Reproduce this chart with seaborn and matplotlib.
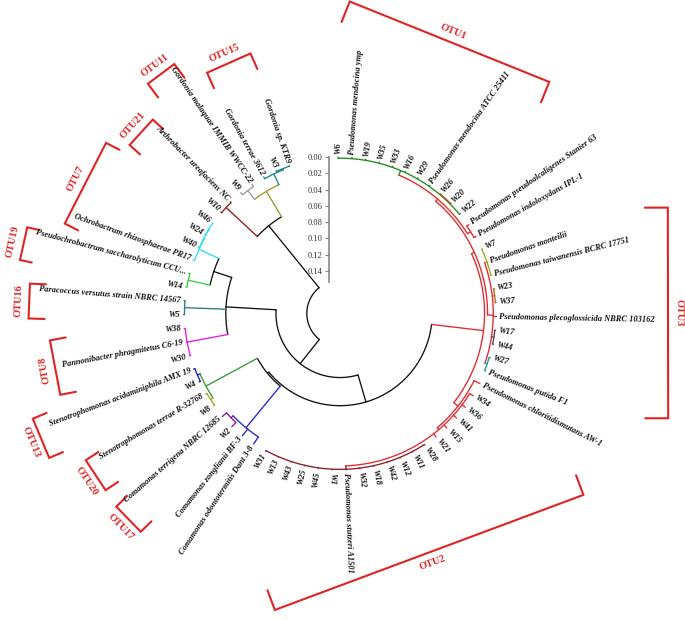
import numpy as np
import pandas as pd
import matplotlib
matplotlib.use("Agg")
import matplotlib.pyplot as plt
import seaborn as sns

sns.set_theme(style="white")
plt.rcParams['font.family'] = ['Liberation Serif', 'DejaVu Serif']

# tips, clockwise from the top of the circle
leaves = [
    "W6", "Pseudomonas mendocina ymp", "W19", "W35", "W33", "W16", "W29",
    "Pseudomonas mendocina ATCC 25411", "W26", "W20", "W22",
    "Pseudomonas pseudoalcaligenes Stanier 63", "Pseudomonas indoloxydans IPL-1",
    "W7", "Pseudomonas monteilii", "Pseudomonas taiwanensis BCRC 17751", "W23", "W37",
    "Pseudomonas plecoglossicida NBRC 103162", "W17", "W44", "W27", "Pseudomonas putida F1",
    "Pseudomonas chloritidismutans AW-1", "W34", "W36", "W41", "W15", "W21", "W28", "W11",
    "W12", "W42", "W18", "W32", "Pseudomonas stutzeri A1501", "W1", "W45", "W25", "W43",
    "W13", "W31",
    "Comamonas odontotermitis Dant 3-8", "Comamonas zonglianii BF-3", "W2",
    "Comamonas terrigena NBRC 12685", "W8", "Stenotrophomonas terrae R-32768", "W4",
    "Stenotrophomonas acidaminiphila AMX 19", "W30", "Pannonibacter phragmitetus C6-19",
    "W38", "W5", "Paracoccus versutus strain NBRC 14567", "W14",
    "Pseudochrobactrum saccharolyticum CCU...", "Ochrobactrum rhizosphaerae PR17",
    "W40", "W24", "W46", "W10", "Arthrobacter ureafaciens NC", "W9",
    "Gordonia malaquae IMMIB WWCC-22", "Gordonia terrae 3612", "W3", "Gordonia sp. KTR9",
]

# internal nodes -> children
children = {
    "root": ["H", "B"],
    "H": ["gord", "arth"],
    "gord": ["gray", "teal3"],
    "gray": ["W9", "Gordonia malaquae IMMIB WWCC-22"],
    "teal3": ["Gordonia terrae 3612", "w3k"],
    "w3k": ["W3", "Gordonia sp. KTR9"],
    "arth": ["W10", "Arthrobacter ureafaciens NC"],
    "B": ["C", "D"],
    "C": ["I", "para", "pann"],
    "I": ["ochro", "w14"],
    "ochro": ["Ochrobactrum rhizosphaerae PR17", "o2"],
    "o2": ["W40", "o3"],
    "o3": ["W24", "W46"],
    "w14": ["W14", "Pseudochrobactrum saccharolyticum CCU..."],
    "para": ["Paracoccus versutus strain NBRC 14567", "W5"],
    "pann": ["W38", "Pannonibacter phragmitetus C6-19", "W30"],
    "D": ["E", "P"],
    "E": ["steno", "coma"],
    "steno": ["st1", "st2"],
    "st1": ["Stenotrophomonas acidaminiphila AMX 19", "W4"],
    "st2": ["Stenotrophomonas terrae R-32768", "W8"],
    "coma": ["coma2", "Comamonas zonglianii BF-3", "Comamonas odontotermitis Dant 3-8"],
    "coma2": ["Comamonas terrigena NBRC 12685", "W2"],
    "P": ["PU", "PL"],
    "PU": ["A1", "otu3"],
    "A1": ["otu1", "pi"],
    "otu1": ["W6", "Pseudomonas mendocina ymp", "W19", "W35", "W33", "W16", "W29",
             "Pseudomonas mendocina ATCC 25411", "w2620", "W22"],
    "w2620": ["W26", "W20"],
    "pi": ["Pseudomonas pseudoalcaligenes Stanier 63", "Pseudomonas indoloxydans IPL-1"],
    "otu3": ["o3a", "o3b", "Pseudomonas plecoglossicida NBRC 103162", "o3c", "o3d"],
    "o3a": ["W7", "Pseudomonas monteilii", "Pseudomonas taiwanensis BCRC 17751"],
    "o3b": ["W23", "W37"],
    "o3c": ["W17", "W44"],
    "o3d": ["W27", "Pseudomonas putida F1"],
    "PL": ["Pseudomonas chloritidismutans AW-1", "PL2"],
    "PL2": ["W34", "W36", "W41", "W15", "W21", "otu2"],
    "otu2": ["W28", "W11", "W12", "W42", "W18", "W32", "Pseudomonas stutzeri A1501",
             "W1", "W45", "W25", "W43", "W13", "W31"],
}

# node depth (distance from the tips, read against the scale bar)
depth = {
    "root": 0.1515, "H": 0.0534, "gord": 0.0171, "gray": 0.0035, "teal3": 0.0025,
    "w3k": 0.001, "arth": 0.0012, "B": 0.1136, "C": 0.0520, "I": 0.0289,
    "ochro": 0.0020, "o2": 0.0012, "o3": 0.0006, "w14": 0.0015, "para": 0.0012,
    "pann": 0.0012, "D": 0.0790, "E": 0.0768, "steno": 0.0050, "st1": 0.0015,
    "st2": 0.0015, "coma": 0.0105, "coma2": 0.0070, "P": 0.0147, "PU": 0.0110,
    "A1": 0.0075, "otu1": 0.0015, "w2620": 0.0007, "pi": 0.0030, "otu3": 0.0040,
    "o3a": 0.0010, "o3b": 0.0010, "o3c": 0.0010, "o3d": 0.0012, "PL": 0.0080,
    "PL2": 0.0050, "otu2": 0.0008,
}

otu_names = ["OTU1", "OTU3", "OTU2", "OTU15", "OTU11", "OTU21", "OTU7",
             "OTU19", "OTU16", "OTU8", "OTU13", "OTU20", "OTU17"]

# ---- layout / style ----
branch_color = {
    "gord": "#9a9a2c", "gray": "#9c9c9c", "teal3": "#17888a", "arth": "#8b1c1c",
    "ochro": "#2fe0f0", "w14": "#3ccc3c", "para": "#2d7a7a", "pann": "#e01ee0",
    "steno": "#359a35", "st1": "#1c1ca0", "st2": "#a3a31e", "coma": "#2626cc",
    "coma2": "#8a1e8a", "P": "#e8262a", "otu1": "#1f8a1f", "w2620": "#b8521c",
    "o3a": "#a3a31e", "o3b": "#b8621c", "o3c": "#5a3a50", "o3d": "#189c9c",
    "otu2": "#8b1c28",
}
R_TIP = 156.5          # tip radius in pixels
PX_PER_UNIT = 814      # pixels per unit of distance
START, STEP = 90.7, 5.1

# OTU brackets: start angle, end angle, distance of the bracket line, tick length
otu_layout = [
    (88.2, 47.9, 293, 22), (17.9, -17.7, 328, 23), (-36.7, -102.4, 255, 21),
    (109.0, 118.9, 274, 17), (123.6, 129.9, 299, 17), (134.0, 141.3, 269, 14),
    (143.9, 161.9, 286, 15), (164.6, 170.5, 324, 12), (174.5, 180.9, 311, 16),
    (185.3, 196.2, 290, 16), (198.9, 206.4, 324, 15), (210.0, 217.0, 293, 15),
    (220.8, 227.6, 295, 15),
]

leaf_angle = {name: START - i * STEP for i, name in enumerate(leaves)}


def angle(n):
    if n in children:
        return float(np.mean([angle(c) for c in children[n]]))
    return leaf_angle[n]


def radius(n):
    return R_TIP - depth[n] * PX_PER_UNIT if n in children else R_TIP


rows = []
seg_id = [0]


def add_seg(xs, ys, col):
    for x, y in zip(xs, ys):
        rows.append((seg_id[0], x, y, col))
    seg_id[0] += 1


def walk(n, col):
    col = branch_color.get(n, col)
    r = radius(n)
    angs = [angle(c) for c in children[n]]
    a = np.radians(np.linspace(min(angs), max(angs), max(3, int(max(angs) - min(angs)) + 2)))
    add_seg(r * np.cos(a), r * np.sin(a), col)
    for c in children[n]:
        ccol = branch_color.get(c, col)
        ac = np.radians(angle(c))
        rc = radius(c)
        add_seg([r * np.cos(ac), rc * np.cos(ac)], [r * np.sin(ac), rc * np.sin(ac)], ccol)
        if c in children:
            walk(c, col)


walk("root", "#111111")
seg = pd.DataFrame(rows, columns=["seg", "x", "y", "color"])

W, H = 685, 620
CX, CY = 340, 313.5
fig = plt.figure(figsize=(W / 100, H / 100), dpi=100)
ax = fig.add_axes([0, 0, 1, 1])
sns.lineplot(data=seg, x="x", y="y", units="seg", hue="color",
             palette={c: c for c in seg["color"].unique()}, estimator=None,
             sort=False, legend=False, linewidth=0.95, ax=ax)

# tip labels
for name, a in leaf_angle.items():
    aa = (a + 180) % 360 - 180
    rr = R_TIP + 3
    x, y = rr * np.cos(np.radians(a)), rr * np.sin(np.radians(a))
    if -95 <= aa <= 95:
        rot, ha = aa, "left"
    else:
        rot, ha = aa - 180 if aa > 0 else aa + 180, "right"
    ax.text(x, y, name, rotation=rot, rotation_mode="anchor", ha=ha, va="center",
            fontsize=6.0, fontstyle="italic", fontweight="bold", color="#111111")

# OTU brackets
red = "#e02424"
for name, (a1, a2, d, tk) in zip(otu_names, otu_layout):
    m = np.radians((a1 + a2) / 2)
    half = d * np.tan(np.radians(abs(a2 - a1) / 2))
    u = np.array([np.cos(m), np.sin(m)])
    t = np.array([-np.sin(m), np.cos(m)])
    p1, p2 = d * u + half * t, d * u - half * t
    pts = np.array([p1 - tk * u, p1, p2, p2 - tk * u])
    ax.plot(pts[:, 0], pts[:, 1], color=red, lw=1.5, solid_joinstyle="miter")
    rot = np.degrees(m) - 90
    if rot < -90:
        rot += 180
    if rot > 105:
        rot -= 180
    lp = (d + 11) * u
    ax.text(lp[0], lp[1], name, rotation=rot, rotation_mode="anchor", ha="center",
            va="center", fontsize=7.5, fontweight="bold", color=red)

ax.set_xlim(-CX, W - CX)
ax.set_ylim(-(H - CY), CY)
ax.axis("off")

# distance scale along the radius
bar_x, bar_bottom = 329, 282
sax = fig.add_axes([bar_x / W, (H - bar_bottom) / H, 0.0001,
                    (bar_bottom - (CY - R_TIP)) / H])
sax.set_ylim((bar_bottom - (CY - R_TIP)) / PX_PER_UNIT, 0)
sax.set_yticks(np.arange(0, 0.141, 0.02))
sax.set_yticklabels([f"{v:.2f}" for v in np.arange(0, 0.141, 0.02)])
sax.set_xticks([])
sns.despine(ax=sax, top=True, right=True, bottom=True, left=False)
sax.spines["left"].set_color("#888888")
sax.spines["left"].set_linewidth(1.2)
sax.tick_params(axis="y", length=3, width=0.8, color="#888888", labelsize=6,
                labelcolor="#333333", pad=1.5, left=True)
sax.patch.set_alpha(0)

fig.savefig("out.png", dpi=100, facecolor="white")
